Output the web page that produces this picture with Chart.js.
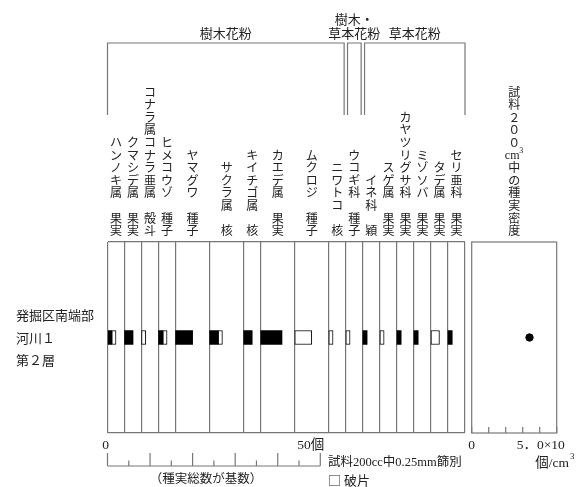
<!doctype html>
<html><head>
<meta charset="utf-8">
<title>種実</title>
<script src="https://cdn.jsdelivr.net/npm/chart.js"></script>
<style>
  body { margin:0; background:#fff; }
  #wrap { position:relative; width:580px; height:487px; }
  #wrap canvas { position:absolute; left:0; top:0; }
</style>
</head><body>
<div id="wrap">
  <canvas id="main" width="580" height="487"></canvas>
  <canvas id="dens" width="580" height="487"></canvas>
</div>
<script>
// 分類群と部位
const taxa = ['ハンノキ属','クマシデ属','コナラ属コナラ亜属','ヒメコウゾ','ヤマグワ','サクラ属','キイチゴ属','カエデ属','ムクロジ','ニワトコ','ウコギ科','イネ科','スゲ属','カヤツリグサ科','ミゾソバ','タデ属','セリ亜科'];
const parts = ['果実','果実','殻斗','種子','種子','核','核','果実','種子','核','種子','穎','果実','果実','果実','果実','果実'];
// 各列の目盛り幅(個)
const colUnits = [4,4,4,4,8,8,4,8,8,4,4,4,4,4,4,4,4];
// 個数（完形 / 破片）
const whole  = [1,2,0,1,4,2,2,5,0,0,0,1,0,1,1,0,1];
const broken = [1,0,1,1,0,1,0,0,4,1,1,0,1,0,0,2,0];
// 花粉区分（列の範囲）
const groups = ['樹木花粉', '樹木・\n草本花粉', '草本花粉'];
const groupCols = [[0,9],[10,10],[11,16]];
const sampleLabel = ['発掘区南端部','河川１','第２層'];
const countTicks = [0,5,10,15,20,25,30,35,40,45,50];
// 試料200cm3中の種実密度（個/cm3）
const density = [0.17];
const densityTicks = [0,0.05,0.1,0.15,0.2,0.25];

const fontJ = "'Liberation Serif','Noto Sans CJK JP',serif";
const fontC = "'Noto Sans CJK JP',sans-serif";
const ink = '#222';
const lineCol = '#777';

// 列の開始位置
const starts = [];
let acc = 0;
colUnits.forEach(u => { starts.push(acc); acc += u; });
const total = acc;

const rowName = '河川１';
const blackData = [], whiteData = [];
taxa.forEach((t, i) => {
  if (whole[i] > 0) blackData.push({x:[starts[i], starts[i] + whole[i]], y:rowName});
  if (broken[i] > 0) whiteData.push({x:[starts[i] + whole[i], starts[i] + whole[i] + broken[i]], y:rowName});
});

function vtext(ctx, items, cx, bottom, pitch) {
  const n = items.length;
  items.forEach((ch, i) => {
    const cy = bottom - (n - i - 0.5) * pitch;
    if (ch === 'cm³') {
      ctx.save();
      ctx.font = "12px " + fontJ;
      ctx.fillText('cm', cx - 2, cy + 1);
      ctx.font = "8px " + fontJ;
      ctx.fillText('3', cx + 7, cy - 4);
      ctx.restore();
    } else {
      ctx.fillText(ch, cx, cy);
    }
  });
}

const mainDeco = {
  id: 'mainDeco',
  afterDraw(chart) {
    const ctx = chart.ctx, x = chart.scales.x;
    ctx.save();
    ctx.fillStyle = ink;
    ctx.textAlign = 'center';
    ctx.textBaseline = 'middle';

    // 列見出し（縦書き）
    ctx.font = "12px " + fontC;
    taxa.forEach((t, i) => {
      const items = [...Array.from(t), '　', ...Array.from(parts[i])];
      vtext(ctx, items, x.getPixelForValue(starts[i] + colUnits[i] / 2), 237, 12.6);
    });

    // 花粉区分の括弧
    ctx.strokeStyle = lineCol;
    ctx.lineWidth = 1.2;
    ctx.font = "13px " + fontC;
    groups.forEach((g, k) => {
      const c0 = groupCols[k][0], c1 = groupCols[k][1];
      const l = x.getPixelForValue(starts[c0]) + (k > 0 ? 1.7 : 0);
      const r = x.getPixelForValue(starts[c1] + colUnits[c1]) - (k < groups.length - 1 ? 1.7 : 0);
      ctx.beginPath();
      ctx.moveTo(l, 115); ctx.lineTo(l, 43); ctx.lineTo(r, 43); ctx.lineTo(r, 115);
      ctx.stroke();
      const lines = g.split('\n');
      lines.forEach((s, j) => {
        ctx.fillText(s, (l + r) / 2, 33 - (lines.length - 1 - j) * 13.5);
      });
    });

    // 試料名
    ctx.textAlign = 'left';
    ctx.font = "13px " + fontJ;
    sampleLabel.forEach((s, j) => ctx.fillText(s, 16, 317 + j * 22.5));

    // 下の目盛り（0〜50個）
    const y0 = 466;
    ctx.beginPath();
    ctx.moveTo(x.getPixelForValue(0), y0);
    ctx.lineTo(x.getPixelForValue(50), y0);
    countTicks.forEach(v => {
      const px = x.getPixelForValue(v);
      ctx.moveTo(px, y0);
      ctx.lineTo(px, y0 - (v % 10 === 0 ? 13 : 5.5));
    });
    ctx.stroke();

    ctx.font = "13.5px " + fontJ;
    ctx.textAlign = 'center';
    ctx.fillText('0', x.getPixelForValue(0) - 2, 445);
    ctx.textAlign = 'right';
    ctx.fillText('50個', x.getPixelForValue(50) + 4, 445);
    ctx.textAlign = 'center';
    ctx.font = "12.5px " + fontJ;
    ctx.fillText('（種実総数が基数）', 206, 480);
    ctx.textAlign = 'left';
    ctx.fillText('試料200cc中0.25mm篩別', 328, 463);
    ctx.font = "13px " + fontC;
    ctx.fillText('□ 破片', 328, 480);
    ctx.restore();
  }
};

new Chart(document.getElementById('main'), {
  type: 'bar',
  data: {
    labels: [rowName],
    datasets: [
      { label: '完形', data: blackData, backgroundColor: '#000', borderWidth: 0, barThickness: 14, grouped: false },
      { label: '破片', data: whiteData, backgroundColor: '#fff', borderColor: '#000', borderWidth: 1, borderSkipped: false, barThickness: 14, grouped: false }
    ]
  },
  options: {
    indexAxis: 'y',
    responsive: false,
    animation: false,
    layout: { padding: { left: 107.5, right: 115, top: 242, bottom: 54 } },
    plugins: { legend: { display: false }, tooltip: { enabled: false } },
    scales: {
      x: {
        type: 'linear', min: 0, max: total,
        afterBuildTicks: s => { s.ticks = [...starts, total].map(v => ({ value: v })); },
        ticks: { display: false },
        grid: { color: lineCol, lineWidth: 1.2, drawTicks: false },
        border: { display: false }
      },
      y: {
        ticks: { display: false },
        grid: { color: lineCol, lineWidth: 1.2, drawTicks: false, offset: true },
        border: { display: false }
      }
    }
  },
  plugins: [mainDeco]
});

const densDeco = {
  id: 'densDeco',
  afterDraw(chart) {
    const ctx = chart.ctx, x = chart.scales.x, a = chart.chartArea;
    ctx.save();
    ctx.strokeStyle = lineCol;
    ctx.lineWidth = 1.2;
    ctx.strokeRect(a.left, a.top, a.right - a.left, a.bottom - a.top);
    ctx.beginPath();
    densityTicks.forEach(v => {
      const px = x.getPixelForValue(v);
      ctx.moveTo(px, a.bottom);
      ctx.lineTo(px, a.bottom - 6);
    });
    ctx.stroke();

    ctx.fillStyle = ink;
    ctx.textAlign = 'center';
    ctx.textBaseline = 'middle';
    ctx.font = "12px " + fontC;
    vtext(ctx, ['試','料','２','０','０','cm³','中','の','種','実','密','度'], (a.left + a.right) / 2, 237, 12.6);

    ctx.font = "13.5px " + fontJ;
    ctx.fillText('0', x.getPixelForValue(0), 445);
    ctx.fillText('5．0×10', x.getPixelForValue(0.2) + 1, 445);
    ctx.textAlign = 'right';
    ctx.fillText('個/cm', 569, 463);
    ctx.font = "9px " + fontJ;
    ctx.textAlign = 'left';
    ctx.fillText('3', 570, 457);
    ctx.restore();
  }
};

new Chart(document.getElementById('dens'), {
  type: 'scatter',
  data: {
    datasets: [{ label: '種実密度', data: density.map(v => ({ x: v, y: 0.5 })), backgroundColor: '#000', borderColor: '#000', pointRadius: 3.7 }]
  },
  options: {
    responsive: false,
    animation: false,
    layout: { padding: { left: 471.7, right: 23.3, top: 242, bottom: 54 } },
    plugins: { legend: { display: false }, tooltip: { enabled: false } },
    scales: {
      x: { min: 0, max: 0.25, display: false },
      y: { min: 0, max: 1, display: false }
    }
  },
  plugins: [densDeco]
});
</script>
</body></html>
